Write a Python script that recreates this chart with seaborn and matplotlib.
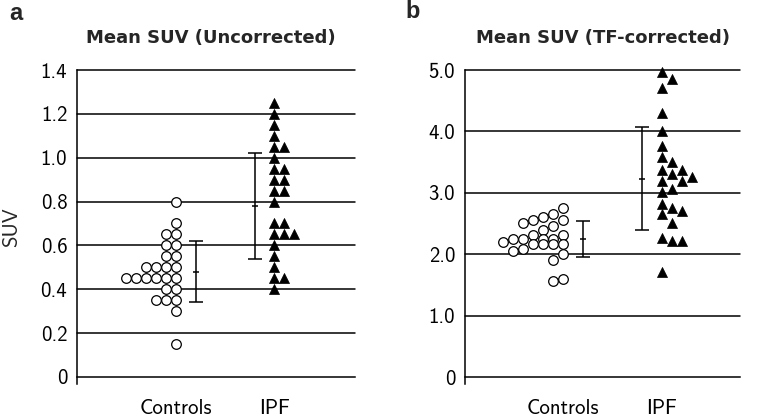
import numpy as np
import pandas as pd
import seaborn as sns
import matplotlib.pyplot as plt

# values
groups = ['Controls', 'IPF']

# panel a: mean SUV, uncorrected
a_controls = [0.80, 0.70, 0.65, 0.65, 0.60, 0.60, 0.55, 0.55, 0.50, 0.50, 0.50, 0.50,
              0.45, 0.45, 0.45, 0.45, 0.45, 0.45, 0.40, 0.40, 0.35, 0.35, 0.35, 0.30, 0.15]
a_ipf = [1.25, 1.20, 1.15, 1.10, 1.05, 1.05, 1.00, 0.95, 0.95, 0.90, 0.90, 0.85, 0.85,
         0.80, 0.70, 0.70, 0.65, 0.65, 0.65, 0.60, 0.55, 0.50, 0.45, 0.45, 0.40]
a_mean = [0.48, 0.78]
a_sd = [0.14, 0.24]
a_ticks = [0, 0.2, 0.4, 0.6, 0.8, 1.0, 1.2, 1.4]
a_ticklabels = ['0', '0.2', '0.4', '0.6', '0.8', '1.0', '1.2', '1.4']

# panel b: mean SUV, TF-corrected
b_controls = [2.76, 2.66, 2.61, 2.55, 2.55, 2.51, 2.46, 2.40, 2.31, 2.31, 2.24, 2.24, 2.24,
              2.24, 2.20, 2.16, 2.16, 2.16, 2.16, 2.09, 2.05, 2.00, 1.90, 1.60, 1.57]
b_ipf = [4.96, 4.85, 4.71, 4.30, 4.00, 3.76, 3.58, 3.50, 3.37, 3.37, 3.31, 3.26, 3.20,
         3.20, 3.06, 3.01, 2.82, 2.76, 2.71, 2.66, 2.51, 2.26, 2.22, 2.22, 1.71]
b_mean = [2.25, 3.23]
b_sd = [0.29, 0.84]
b_ticks = [0, 1.0, 2.0, 3.0, 4.0, 5.0]
b_ticklabels = ['0', '1.0', '2.0', '3.0', '4.0', '5.0']


def one_sided_swarm(ax, values, center, direction, gap_px=10.0, max_cols=20):
    # push each point sideways (one direction only) until it clears the ones already placed;
    # when the row gets too wide, allow a partial overlap instead
    vals = np.asarray(values, dtype=float)
    pts = ax.transData.transform(np.column_stack([np.full(len(vals), center), vals]))
    y_px = pts[:, 1]
    x0 = ax.transData.transform((center, 0))[0]
    x1 = ax.transData.transform((center + 1, 0))[0]
    step = gap_px / (x1 - x0)
    cols = np.zeros(len(vals), dtype=int)
    placed = []

    def nearest(i, k):
        if not placed:
            return np.inf
        return min(np.hypot((k - cols[j]) * gap_px, y_px[i] - y_px[j]) for j in placed)

    for i in np.argsort(-vals, kind='stable'):
        dist = [nearest(i, k) for k in range(max_cols)]
        ok = [k for k in range(max_cols) if dist[k] >= gap_px - 0.6]
        if not ok:
            ok = [k for k in range(max_cols) if dist[k] >= gap_px * 0.45]
        cols[i] = ok[0] if ok else int(np.argmax(dist))
        placed.append(i)
    return center + direction * cols * step


def draw_panel(ax, controls, ipf, means, sds, ticks, ticklabels, ylim, xlim, ctrl_cols=20):
    ax.set_xlim(*xlim)
    ax.set_ylim(*ylim)
    for v in ticks[1:]:
        ax.axhline(v, color='black', lw=1.1, zorder=0, clip_on=False)

    xc = one_sided_swarm(ax, controls, 0, -1, max_cols=ctrl_cols)
    xi = one_sided_swarm(ax, ipf, 1, 1)
    sns.scatterplot(x=xc, y=controls, ax=ax, marker='o', s=48, color='white',
                    edgecolor='black', linewidth=0.9, legend=False, zorder=3, clip_on=False)
    sns.scatterplot(x=xi, y=ipf, ax=ax, marker='^', s=52, color='black',
                    edgecolor='black', linewidth=0.5, legend=False, zorder=3, clip_on=False)

    # mean +/- SD bars sit between the two groups
    ax.errorbar([0.2, 0.8], means, yerr=sds, fmt='_', ms=4, mew=1.1, color='black',
                ecolor='black', elinewidth=1.1, capsize=5, capthick=1.1, zorder=2)

    ax.set_yticks(ticks)
    ax.set_yticklabels(ticklabels)
    ax.set_xticks([0, 1])
    ax.set_xticklabels(groups)
    for s in ['top', 'right']:
        ax.spines[s].set_visible(False)
    ax.spines['bottom'].set_position(('data', 0))
    for s in ['left', 'bottom']:
        ax.spines[s].set_linewidth(1.1)
        ax.spines[s].set_color('black')
    ax.tick_params(axis='y', direction='out', length=5, width=1.1, pad=2,
                   labelsize=15, colors='black')
    ax.tick_params(axis='x', direction='inout', length=6, width=1.1, pad=13,
                   labelsize=15, colors='black')
    ax.set_xlabel('')
    ax.set_ylabel('')


sns.set_theme(style='white')
plt.rcParams['font.family'] = ['cmss10', 'DejaVu Sans']
plt.rcParams['axes.unicode_minus'] = False

W, H = 761, 417
fig = plt.figure(figsize=(W / 100, H / 100), dpi=100)
fig.patch.set_facecolor('white')


def box(left, right, top, bottom):
    return [left / W, 1 - bottom / H, (right - left) / W, (bottom - top) / H]


ax1 = fig.add_axes(box(77, 355, 70, 384))
ax2 = fig.add_axes(box(465, 740, 70, 384))

draw_panel(ax1, a_controls, a_ipf, a_mean, a_sd, a_ticks, a_ticklabels,
           (-0.032, 1.4), (-1.01, 1.82))
draw_panel(ax2, b_controls, b_ipf, b_mean, b_sd, b_ticks, b_ticklabels,
           (-0.114, 5.0), (-0.99, 1.79), ctrl_cols=7)

ax1.set_ylabel('SUV', fontsize=15, labelpad=14)

fig.text(211 / W, 1 - 38 / H, 'Mean SUV (Uncorrected)', ha='center', va='center',
         family='DejaVu Sans', weight='bold', fontsize=13)
fig.text(603 / W, 1 - 38 / H, 'Mean SUV (TF-corrected)', ha='center', va='center',
         family='DejaVu Sans', weight='bold', fontsize=13)
fig.text(9 / W, 1 - 14 / H, 'a', ha='left', va='center', family='Liberation Sans',
         weight='bold', fontsize=17)
fig.text(405 / W, 1 - 12 / H, 'b', ha='left', va='center', family='Liberation Sans',
         weight='bold', fontsize=17)

fig.savefig('out.png', dpi=100)
